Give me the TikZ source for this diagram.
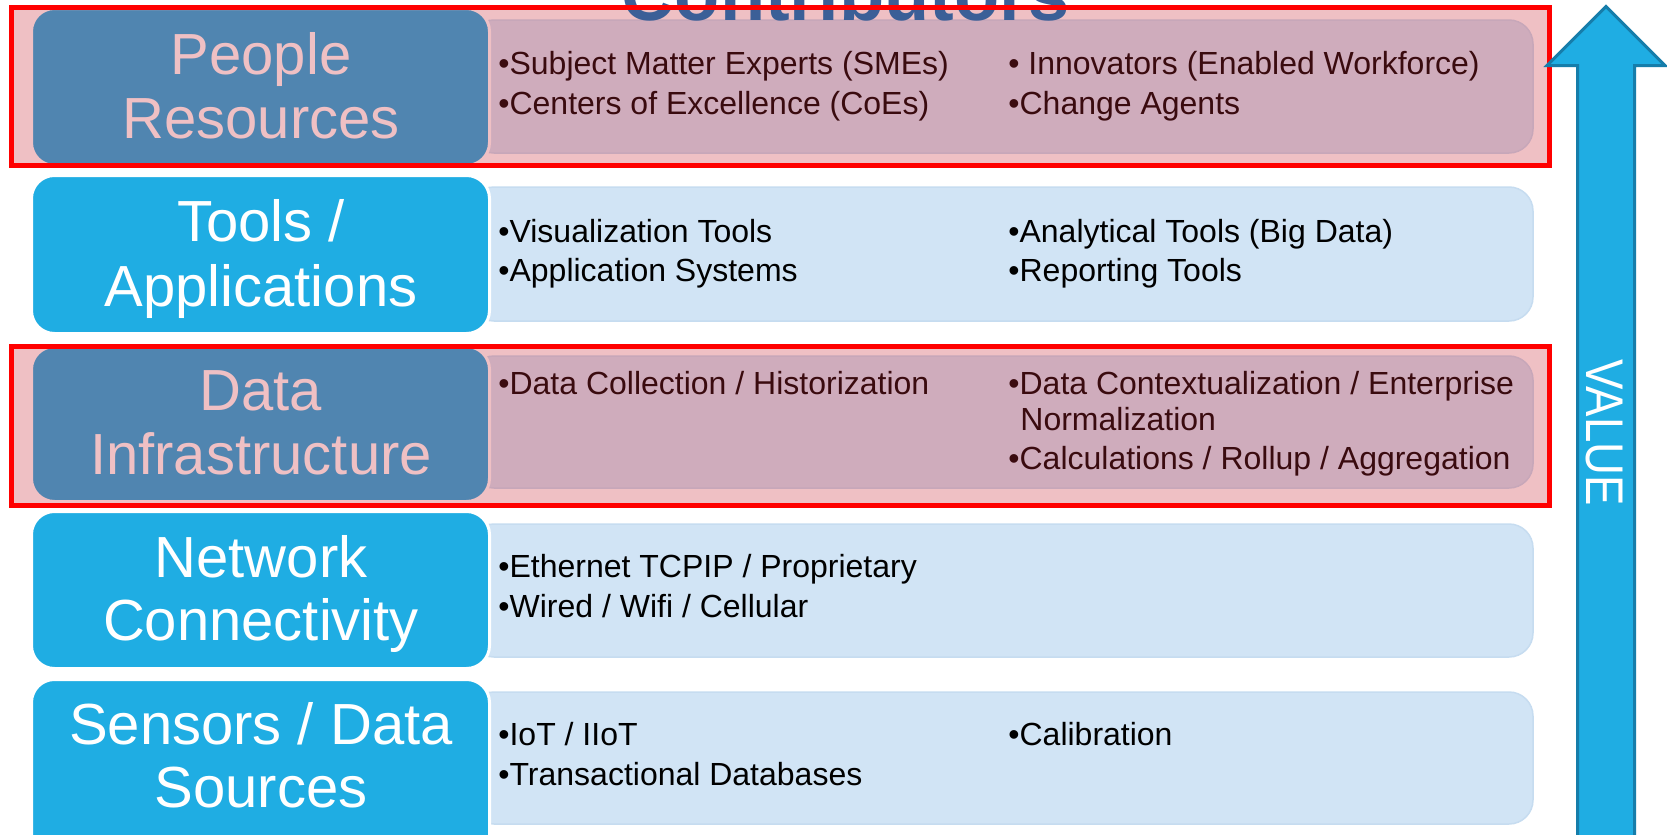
\documentclass[tikz,border=0pt]{standalone}
\usepackage{fontspec}
\setmainfont{Liberation Sans}
\definecolor{tierblue}{HTML}{1FADE3}
\definecolor{infoblue}{HTML}{D1E4F5}
\definecolor{infoedge}{HTML}{C6DCF0}
\definecolor{tint}{HTML}{CB2634}
\definecolor{titleblue}{HTML}{3B5F97}
\definecolor{arrowedge}{HTML}{167DAA}
\tikzset{
  leftbox/.style={fill=tierblue, draw=white, line width=1.5pt, rounded corners=11.5pt},
  infobox/.style={fill=infoblue, draw=infoedge, line width=0.75pt, rounded corners=12pt},
  tiertext/.style={anchor=base, inner sep=0pt, text=white, font=\fontsize{29}{32}\selectfont},
  itemtext/.style={anchor=base west, inner sep=0pt, text=black, font=\fontsize{16}{19}\selectfont},
  tintfill/.style={fill=tint, fill opacity=0.29},
  hilite/.style={draw=red, line width=2.5pt},
}
\begin{document}
\begin{tikzpicture}[x=0.5pt,y=-0.5pt]
\clip (0,0) rectangle (1667,835);
\fill[white] (0,0) rectangle (1667,835);

% Row 1: people resources
\path[infobox] (470,20) rectangle (1533,153);
\path[leftbox] (31.5,8.5) rectangle (489.5,165.5);
\node[tiertext] (t1a) at (261,74) {People};
\node[tiertext] (t1b) at (261,138) {Resources};
\node[itemtext] (i1a) at (498,75) {•Subject Matter Experts (SMEs)};
\node[itemtext] (i1b) at (498,114) {•Centers of Excellence (CoEs)};
\node[itemtext] (i1c) at (1008,75) {• Innovators (Enabled Workforce)};
\node[itemtext] (i1d) at (1008,114) {•Change Agents};

% Row 2: tools / applications
\path[infobox] (470,187) rectangle (1533,321);
\path[leftbox] (31.5,175.5) rectangle (489.5,333.5);
\node[tiertext] (t2a) at (261,241) {Tools /};
\node[tiertext] (t2b) at (261,306) {Applications};
\node[itemtext] (i2a) at (498,242) {•Visualization Tools};
\node[itemtext] (i2b) at (498,281) {•Application Systems};
\node[itemtext] (i2c) at (1008,242) {•Analytical Tools (Big Data)};
\node[itemtext] (i2d) at (1008,281) {•Reporting Tools};

% Row 3: data infrastructure
\path[infobox] (470,356) rectangle (1533,488);
\path[leftbox] (31.5,346.5) rectangle (489.5,501.5);
\node[tiertext] (t3a) at (261,410) {Data};
\node[tiertext] (t3b) at (261,474) {Infrastructure};
\node[itemtext] (i3a) at (498,394) {•Data Collection / Historization};
\node[itemtext] (i3b) at (1008,394) {•Data Contextualization / Enterprise};
\node[itemtext] (i3c) at (1020,430) {Normalization};
\node[itemtext] (i3d) at (1008,469) {•Calculations / Rollup / Aggregation};

% Row 4: network connectivity
\path[infobox] (470,524) rectangle (1533,657);
\path[leftbox] (31.5,511.5) rectangle (489.5,668.5);
\node[tiertext] (t4a) at (261,577) {Network};
\node[tiertext] (t4b) at (261,640) {Connectivity};
\node[itemtext] (i4a) at (498,577) {•Ethernet TCPIP / Proprietary};
\node[itemtext] (i4b) at (498,617) {•Wired / Wifi / Cellular};

% Row 5: sensors / data sources
\path[infobox] (470,692) rectangle (1533,824);
\path[leftbox] (31.5,679.5) rectangle (489.5,860);
\node[tiertext] (t5a) at (261,744) {Sensors / Data};
\node[tiertext] (t5b) at (261,807) {Sources};
\node[itemtext] (i5a) at (498,745) {•IoT / IIoT};
\node[itemtext] (i5b) at (498,785) {•Transactional Databases};
\node[itemtext] (i5c) at (1008,745) {•Calibration};

% Highlight tint over rows 1 and 3
\path[tintfill] (11.5,7.5) rectangle (1549.5,165.5);
\path[tintfill] (11.5,346.5) rectangle (1549.5,505.5);

% Heading, partly above the page
\node[anchor=base, inner sep=0pt, text=titleblue,
      font=\fontsize{37}{40}\selectfont\bfseries] (title) at (845.5,20) {Contributors};

% Highlight frames
\draw[hilite] (11.5,7.5) rectangle (1549.5,165.5);
\draw[hilite] (11.5,346.5) rectangle (1549.5,505.5);

% Value arrow
\draw[fill=tierblue, draw=arrowedge, line width=1.5pt, line join=miter]
  (1577.5,850) -- (1577.5,65.5) -- (1547,65.5) -- (1606,6.5)
  -- (1665,65.5) -- (1634.5,65.5) -- (1634.5,850) -- cycle;
\node[rotate=-90, inner sep=0pt, text=white,
      font=\fontsize{26.5}{30}\selectfont] (value) at (1604,433) {\scalebox{0.86}[1]{VALUE}};
\end{tikzpicture}
\end{document}
